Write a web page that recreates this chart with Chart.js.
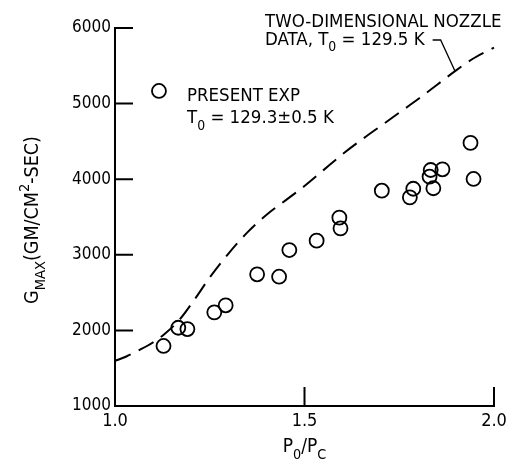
<!DOCTYPE html>
<html>
<head>
<meta charset="utf-8">
<script src="https://cdn.jsdelivr.net/npm/chart.js@4.4.1/dist/chart.umd.min.js"></script>
<style>
html,body{margin:0;padding:0;background:#fff;}
#wrap{width:513px;height:472px;}
</style>
</head>
<body>
<div id="wrap"><canvas id="c" width="513" height="472"></canvas></div>
<script>
// ---- data ----
const expX = [1.128,1.167,1.191,1.262,1.292,1.375,1.433,1.460,1.532,1.592,1.595,1.704,1.778,1.787,1.830,1.833,1.840,1.864,1.946,1.938];
const expY = [1794,2035,2018,2239,2332,2742,2710,3063,3187,3491,3350,3848,3760,3874,4033,4122,3880,4131,4003,4480];
const nozzleX = [1.00,1.03,1.06,1.10,1.13,1.17,1.21,1.25,1.30,1.35,1.40,1.45,1.50,1.55,1.60,1.65,1.70,1.75,1.80,1.85,1.90,1.95,2.00];
const nozzleY = [1595,1655,1730,1840,1950,2140,2410,2700,3020,3300,3530,3720,3910,4120,4330,4520,4700,4880,5060,5250,5440,5610,5740];
const xTicks = [1.0, 1.5, 2.0];
const yTicks = [1000, 2000, 3000, 4000, 5000, 6000];

const FONT = "'Liberation Sans Narrow','DejaVu Sans Condensed','Liberation Sans',sans-serif";

function drawRich(ctx, x, y, segs, size, align) {
  // segs: [text, mode] mode: 0 normal, 1 sub, 2 sup
  const parts = segs.map(([t, m]) => {
    const s = m ? size * 0.75 : size;
    ctx.font = s + "px " + FONT;
    return {t, m, s, w: ctx.measureText(t).width};
  });
  const total = parts.reduce((a, p) => a + p.w, 0);
  let cx = align === 'center' ? x - total / 2 : x;
  ctx.textAlign = 'left';
  ctx.textBaseline = 'alphabetic';
  for (const p of parts) {
    ctx.font = p.s + "px " + FONT;
    const dy = p.m === 1 ? size * 0.35 : (p.m === 2 ? -size * 0.45 : 0);
    ctx.fillText(p.t, cx, y + dy);
    cx += p.w;
  }
  return total;
}

const decor = {
  id: 'decor',
  afterDraw(chart) {
    const ctx = chart.ctx;
    const xs = chart.scales.x, ys = chart.scales.y;
    const a = chart.chartArea;
    ctx.save();
    ctx.strokeStyle = '#000';
    ctx.fillStyle = '#000';
    ctx.lineWidth = 2;
    // inward tick marks
    ctx.beginPath();
    yTicks.slice(1).forEach(v => {
      const py = ys.getPixelForValue(v);
      ctx.moveTo(a.left, py); ctx.lineTo(a.left + 18, py);
    });
    xTicks.slice(1).forEach(v => {
      const px = xs.getPixelForValue(v);
      ctx.moveTo(px, a.bottom); ctx.lineTo(px, a.bottom - 19);
    });
    ctx.stroke();

    // annotation: two-dimensional nozzle
    const tx = xs.getPixelForValue(1.396);
    drawRich(ctx, tx, ys.getPixelForValue(6013), [["TWO-DIMENSIONAL NOZZLE", 0]], 18.5);
    const w2 = drawRich(ctx, tx, ys.getPixelForValue(5775), [["DATA, T", 0], ["0", 1], [" = 129.5 K", 0]], 18.5);
    // leader
    ctx.lineWidth = 1.3;
    ctx.beginPath();
    const ly = ys.getPixelForValue(5775) - 5;
    ctx.moveTo(tx + w2 + 8, ly);
    ctx.lineTo(tx + w2 + 16, ly);
    ctx.lineTo(xs.getPixelForValue(1.897), ys.getPixelForValue(5430));
    ctx.stroke();

    // legend
    ctx.lineWidth = 1.8;
    ctx.beginPath();
    ctx.arc(xs.getPixelForValue(1.116), ys.getPixelForValue(5167), 7, 0, Math.PI * 2);
    ctx.stroke();
    const lx = xs.getPixelForValue(1.190);
    drawRich(ctx, lx, ys.getPixelForValue(5034), [["PRESENT EXP", 0]], 18.5);
    drawRich(ctx, lx, ys.getPixelForValue(4737), [["T", 0], ["0", 1], [" = 129.3\u00B10.5 K", 0]], 18.5);

    // x axis title
    drawRich(ctx, (a.left + a.right) / 2, 452, [["P", 0], ["0", 1], ["/P", 0], ["C", 1]], 19, 'center');

    // y axis title
    ctx.translate(38, 220);
    ctx.rotate(-Math.PI / 2);
    drawRich(ctx, 0, 0, [["G", 0], ["MAX", 1], ["(GM/CM", 0], ["2", 2], ["-SEC)", 0]], 19.5, 'center');
    ctx.restore();
  }
};

new Chart(document.getElementById('c'), {
  data: {
    datasets: [
      {
        type: 'line',
        data: nozzleX.map((x, i) => ({x, y: nozzleY[i]})),
        borderColor: '#000',
        borderWidth: 2,
        borderDash: [17, 9],
        pointRadius: 0,
        fill: false,
        cubicInterpolationMode: 'monotone',
        clip: false
      },
      {
        type: 'scatter',
        data: expX.map((x, i) => ({x, y: expY[i]})),
        pointStyle: 'circle',
        pointRadius: 7,
        borderColor: '#000',
        backgroundColor: 'rgba(0,0,0,0)',
        borderWidth: 1.8,
        clip: false
      }
    ]
  },
  options: {
    responsive: false,
    animation: false,
    devicePixelRatio: 1,
    layout: {padding: {top: 28, right: 19, left: 0, bottom: 0}},
    plugins: {legend: {display: false}, tooltip: {enabled: false}},
    scales: {
      x: {
        type: 'linear', min: 1.0, max: 2.0,
        afterFit: s => { s.height = 66; },
        afterBuildTicks: s => { s.ticks = xTicks.map(v => ({value: v})); },
        grid: {display: false, drawTicks: false},
        border: {display: true, color: '#000', width: 2},
        ticks: {color: '#000', padding: 5, maxRotation: 0, font: {family: FONT, size: 18},
                callback: v => v.toFixed(1)}
      },
      y: {
        type: 'linear', min: 1000, max: 6000,
        afterFit: s => { s.width = 115; },
        afterBuildTicks: s => { s.ticks = yTicks.map(v => ({value: v})); },
        grid: {display: false, drawTicks: false},
        border: {display: true, color: '#000', width: 2},
        ticks: {color: '#000', padding: 4, font: {family: FONT, size: 17},
                callback: v => String(v)}
      }
    }
  },
  plugins: [decor]
});
</script>
</body>
</html>
